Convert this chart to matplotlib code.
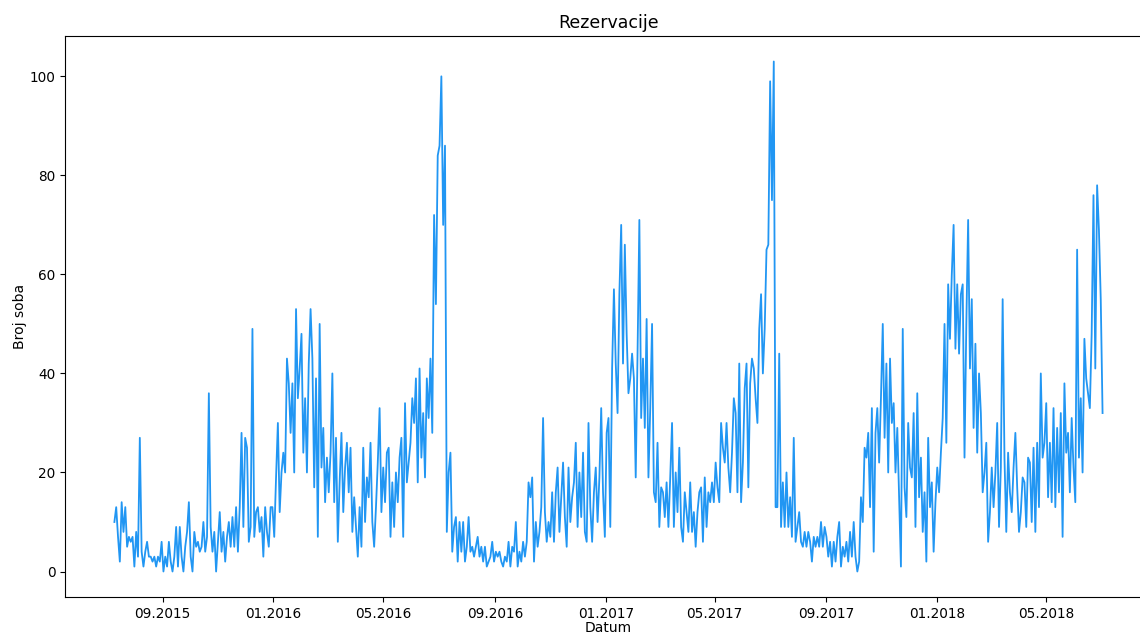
import pandas as pd
import matplotlib
matplotlib.use('Agg')
import matplotlib.pyplot as plt
import matplotlib.dates as mdates

# broj rezerviranih soba, vrijednost svaka 2 dana od 10.07.2015.
start_date = '2015-07-10'

jul_aug_2015 = [10, 13, 7, 2, 14, 8, 13, 5, 7, 6, 7, 1, 8, 3, 27, 4, 1, 4, 6, 3,
                3, 2, 3, 1, 3, 2]
sep_dec_2015 = [6, 0, 3, 1, 6, 2, 0, 3, 9, 1, 9, 3, 0, 5, 8, 14, 3, 0, 8, 5,
                6, 4, 5, 10, 4, 7, 36, 9, 4, 8, 0, 6, 12, 4, 8, 2, 7, 10, 5, 11,
                5, 13, 4, 13, 28, 9, 27, 25, 6, 9, 49, 7, 12, 13, 8, 11, 3, 13, 8, 5,
                13]
jan_apr_2016 = [13, 7, 19, 30, 12, 20, 24, 20, 43, 38, 28, 38, 20, 53, 35, 41, 48, 24, 35, 20,
                42, 53, 43, 17, 39, 7, 50, 21, 29, 14, 23, 16, 24, 40, 14, 27, 6, 18, 28, 12,
                21, 26, 16, 25, 8, 15, 9, 3, 13, 5, 25, 10, 19, 15, 26, 10, 5, 13, 22, 33]
may_aug_2016 = [12, 21, 14, 24, 25, 7, 18, 9, 20, 14, 23, 27, 7, 34, 18, 22, 26, 35, 30, 39,
                18, 41, 23, 32, 19, 39, 31, 43, 28, 72, 54, 84, 86, 100, 70, 86, 8, 20, 24, 4,
                9, 11, 2, 10, 4, 10, 2, 5, 11, 4, 5, 3, 5, 7, 3, 5, 2, 5, 1, 2,
                3, 6]
sep_dec_2016 = [2, 4, 3, 4, 2, 1, 3, 2, 6, 1, 5, 4, 10, 1, 4, 2, 6, 3, 6, 18,
                15, 19, 2, 10, 5, 8, 13, 31, 12, 6, 10, 7, 16, 6, 16, 21, 8, 15, 22, 11,
                5, 21, 10, 15, 18, 26, 9, 20, 11, 24, 8, 6, 30, 13, 6, 16, 21, 10, 19, 33,
                16]
jan_apr_2017 = [7, 28, 31, 9, 41, 57, 42, 32, 56, 70, 42, 66, 48, 36, 39, 44, 39, 19, 44, 71,
                31, 43, 29, 51, 19, 33, 50, 16, 14, 26, 9, 17, 16, 11, 18, 9, 19, 30, 9, 20,
                12, 25, 9, 6, 16, 12, 8, 18, 8, 12, 5, 12, 16, 17, 6, 19, 9, 16, 14, 18]
may_aug_2017 = [14, 22, 17, 14, 30, 25, 22, 30, 21, 16, 24, 35, 32, 16, 42, 14, 22, 37, 42, 17,
                38, 43, 41, 35, 30, 49, 56, 40, 49, 65, 66, 99, 75, 103, 13, 13, 44, 9, 18, 9,
                20, 9, 15, 7, 27, 6, 9, 12, 6, 5, 8, 5, 8, 6, 2, 7, 5, 7, 5, 10,
                5, 9]
sep_dec_2017 = [7, 3, 6, 1, 6, 2, 7, 10, 1, 5, 3, 6, 2, 8, 3, 10, 3, 0, 2, 15,
                10, 25, 23, 28, 13, 33, 4, 28, 33, 22, 35, 50, 27, 42, 20, 43, 30, 34, 20, 29,
                15, 1, 49, 17, 11, 30, 21, 19, 32, 9, 36, 15, 23, 8, 16, 2, 27, 13, 18, 4,
                14]
jan_apr_2018 = [21, 16, 24, 31, 50, 26, 58, 47, 60, 70, 45, 58, 44, 56, 58, 23, 50, 71, 41, 55,
                29, 46, 24, 40, 32, 16, 20, 26, 6, 12, 21, 13, 20, 30, 9, 21, 55, 23, 8, 24,
                16, 12, 21, 28, 17, 8, 12, 19, 18, 9, 23, 22, 10, 25, 8, 26, 13, 40, 23, 26]
may_jun_2018 = [34, 15, 26, 14, 33, 13, 29, 16, 32, 7, 38, 24, 28, 16, 31, 21, 14, 65, 23, 35,
                20, 47, 39, 36, 33, 48, 76, 41, 78, 69, 55, 32]

rooms = (jul_aug_2015 + sep_dec_2015 + jan_apr_2016 + may_aug_2016 + sep_dec_2016
         + jan_apr_2017 + may_aug_2017 + sep_dec_2017 + jan_apr_2018 + may_jun_2018)
dates = pd.date_range(start_date, periods=len(rooms), freq='2D')

fig = plt.figure(figsize=(11.4, 6.36), dpi=100)
ax = fig.add_axes([0.057, 0.0613, 0.9535, 0.8821])
ax.plot(dates, rooms, color='#2196f3', linewidth=1.3)

ax.xaxis.set_major_locator(mdates.MonthLocator(bymonth=[1, 5, 9]))
ax.xaxis.set_major_formatter(mdates.DateFormatter('%m.%Y'))
ax.tick_params(labelsize=9.8)

ax.set_title('Rezervacije', fontsize=12.5)
ax.set_xlabel('Datum', fontsize=10, labelpad=0)
ax.set_ylabel('Broj soba', fontsize=10, labelpad=2)

fig.savefig('out.png', dpi=100)
